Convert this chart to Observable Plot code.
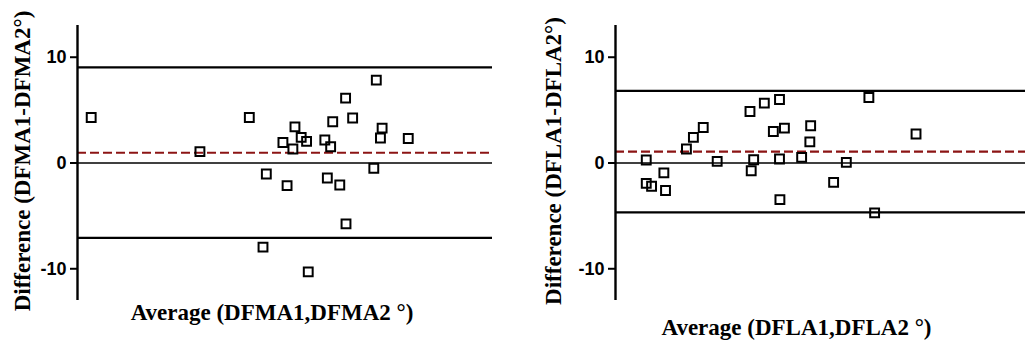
<!DOCTYPE html>
<html>
<head>
<meta charset="utf-8">
<script src="https://cdn.jsdelivr.net/npm/d3@7"></script>
<script src="https://cdn.jsdelivr.net/npm/@observablehq/plot@0.6"></script>
<style>
  body { margin: 0; background: #fff; }
  #wrap { position: relative; width: 1025px; height: 342px; overflow: hidden; }
  #left, #right { position: absolute; top: 0; }
  #left { left: 0; }
  #right { left: 512px; }
</style>
</head>
<body>
<div id="wrap"><div id="left"></div><div id="right"></div></div>
<script>
// Left panel: DFMA (x = relative position of average, no axis shown)
const dfmaAvg  = [3.3, 29.5, 41.4, 45.5, 44.7, 49.5, 50.5, 52.4, 51.9, 53.9, 55.2, 55.6, 59.6, 60.2, 61.0, 61.5, 63.2, 64.6, 64.7, 66.3, 71.4, 72.0, 73.4, 73.0, 79.7];
const dfmaDiff = [4.3, 1.07, 4.3, -1.04, -7.96, 1.94, -2.14, 3.42, 1.32, 2.42, 2.04, -10.3, 2.17, -1.42, 1.54, 3.9, -2.08, 6.13, -5.75, 4.25, -0.5, 7.83, 3.3, 2.36, 2.32];
const dfmaBias = 0.97;
const dfmaLimits = [9.05, -7.08];

// Right panel: DFLA
const dflaAvg  = [7.5, 7.5, 8.8, 11.8, 12.2, 17.3, 19.0, 21.4, 24.8, 32.8, 33.7, 33.1, 36.3, 38.5, 40.0, 40.0, 41.2, 40.1, 45.4, 47.6, 47.4, 53.2, 56.3, 61.8, 63.2, 73.3];
const dflaDiff = [0.28, -1.92, -2.2, -0.94, -2.6, 1.32, 2.42, 3.36, 0.15, 4.87, 0.31, -0.73, 5.66, 2.98, 6.0, 0.38, 3.3, -3.46, 0.53, 3.52, 2.0, -1.83, 0.06, 6.19, -4.72, 2.74];
const dflaBias = 1.07;
const dflaLimits = [6.82, -4.66];

const yTicks = [-10, 0, 10];
const yDomain = [-13, 13];

const labels = {
  left:  {y: "Difference (DFMA1-DFMA2°)", x: "Average (DFMA1,DFMA2 °)"},
  right: {y: "Difference (DFLA1-DFLA2°)", x: "Average (DFLA1,DFLA2 °)"}
};

function panel({avg, diff, bias, limits, lab, width, marginLeft, marginRight, ylabDx, xlabDx, xlabDy}) {
  const pts = avg.map((a, i) => ({avg: a, diff: diff[i]}));
  const serif = "'Liberation Serif', 'Times New Roman', serif";
  return Plot.plot({
    width, height: 342,
    marginLeft, marginRight, marginTop: 25, marginBottom: 42,
    style: {background: "white", color: "black", overflow: "visible"},
    x: {domain: [0, 100], axis: null},
    y: {domain: yDomain},
    marks: [
      Plot.ruleY(limits, {stroke: "black", strokeWidth: 2.2}),
      Plot.ruleY([0], {stroke: "black", strokeWidth: 1.5}),
      Plot.ruleY([bias], {stroke: "#8c1414", strokeWidth: 2.2, strokeDasharray: "9,4"}),
      Plot.ruleX([0], {y1: yDomain[0], y2: yDomain[1], stroke: "black", strokeWidth: 2.4}),
      Plot.axisY({ticks: yTicks, tickSize: 7, tickPadding: 4, strokeWidth: 2, fontSize: 18, fontWeight: "bold",
                  fontFamily: "'Liberation Sans', Arial, sans-serif", tickFormat: d => String(d), label: null}),
      Plot.dot(pts, {x: "avg", y: "diff", symbol: "square", r: 5, stroke: "black", strokeWidth: 2, fill: "none"}),
      Plot.text([lab.y], {frameAnchor: "left", textAnchor: "middle", lineAnchor: "middle", dx: ylabDx, dy: -2, rotate: -90,
                          fontSize: 23, fontWeight: "bold", fontFamily: serif, fill: "black"}),
      Plot.text([lab.x], {frameAnchor: "bottom", textAnchor: "middle", lineAnchor: "middle", dx: xlabDx, dy: xlabDy,
                          fontSize: 23, fontWeight: "bold", fontFamily: serif, fill: "black"})
    ]
  });
}

document.getElementById("left").append(panel({
  avg: dfmaAvg, diff: dfmaDiff, bias: dfmaBias, limits: dfmaLimits, lab: labels.left,
  width: 512, marginLeft: 77, marginRight: 20, ylabDx: -55, xlabDx: -13, xlabDy: 12
}));
document.getElementById("right").append(panel({
  avg: dflaAvg, diff: dflaDiff, bias: dflaBias, limits: dflaLimits, lab: labels.right,
  width: 513, marginLeft: 103, marginRight: 0, ylabDx: -62, xlabDx: -24, xlabDy: 27
}));
</script>
</body>
</html>
